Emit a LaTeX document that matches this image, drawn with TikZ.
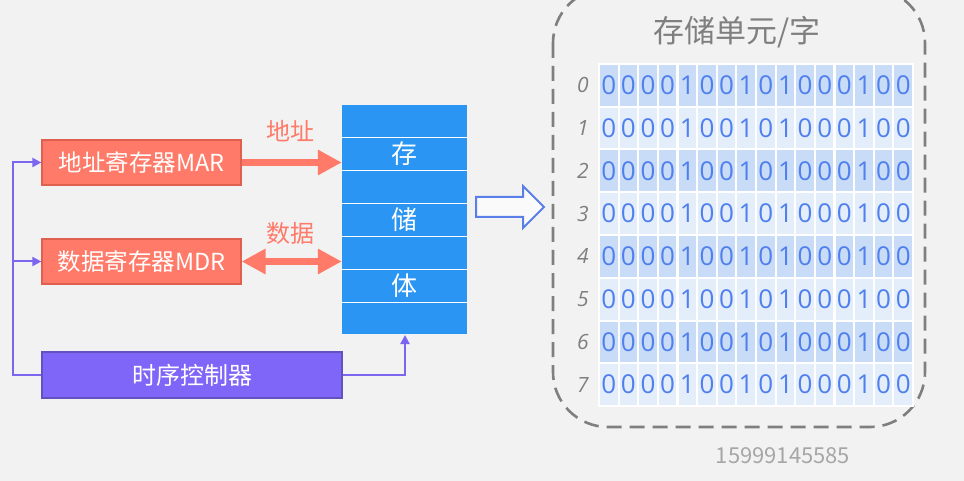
\documentclass[tikz,border=0pt]{standalone}
\usepackage{fontspec}
\setmainfont{Noto Sans CJK SC}
\newfontfamily\labfont{Open Sans}
\usetikzlibrary{arrows.meta}
\definecolor{bgc}{HTML}{F2F2F2}
\definecolor{salmon}{HTML}{FF7A68}
\definecolor{salmonb}{HTML}{E0604F}
\definecolor{memblue}{HTML}{2A95F2}
\definecolor{purp}{HTML}{8066F8}
\definecolor{purpl}{HTML}{7B66F0}
\definecolor{celld}{HTML}{C9DCF7}
\definecolor{celll}{HTML}{E4EEFB}
\definecolor{digit}{HTML}{5080EE}
\definecolor{dgray}{HTML}{7F7F7F}
\definecolor{hollow}{HTML}{5B7FE8}
\begin{document}
\begin{tikzpicture}[x=1pt,y=-1pt,
  regbox/.style={draw=salmonb,line width=1.2pt,fill=salmon,text=white,minimum width=199pt,minimum height=45pt,inner sep=0pt,font=\fontsize{23.5}{26}\selectfont},
  ctrlbox/.style={draw=purpl!80!black,line width=1.2pt,fill=purp,text=white,minimum width=300pt,minimum height=46pt,inner sep=0pt,font=\fontsize{24}{27}\selectfont},
  bigarrow/.style={draw=salmon,line width=7pt},
  ctrlline/.style={draw=purpl,line width=2pt,-{Triangle[length=9pt,width=9pt]}},
  memtext/.style={text=white,font=\fontsize{26}{28}\selectfont,inner sep=0pt},
  lbltext/.style={text=salmon,font=\fontsize{24}{27}\selectfont,inner sep=0pt},
  bit/.style={text=digit,font=\labfont\fontsize{26}{29}\selectfont,inner sep=0pt},
  rowlab/.style={text=dgray,font=\labfont\itshape\fontsize{21}{24}\selectfont,inner sep=0pt}]
\fill[bgc] (0,0) rectangle (964,481);
\useasboundingbox (0,0) rectangle (964,481);

% memory block
\node[fill=memblue,minimum width=125pt,minimum height=229pt,inner sep=0pt] (mem) at (404.5,219.5) {};
\foreach \yy in {137.5,170.5,203.5,236.5,269.5,302.5}
  \draw[white,line width=1.5pt] (342,\yy) -- (467,\yy);
\node[memtext] (m1) at (404.5,154) {存};
\node[memtext] (m2) at (404.5,220) {储};
\node[memtext] (m3) at (404.5,286) {体};

% registers
\node[regbox] (mar) at (141.5,162.5) {地址寄存器MAR};
\node[regbox] (mdr) at (141.5,261.5) {数据寄存器MDR};
\node[ctrlbox] (tc) at (192,375) {时序控制器};

% address / data arrows
\draw[bigarrow,-{Triangle[length=24pt,width=24pt]}] (mar.east) -- (mar.east -| mem.west);
\draw[bigarrow,{Triangle[length=24pt,width=24pt]}-{Triangle[length=24pt,width=24pt]}] (mdr.east) -- (mdr.east -| mem.west);
\node[lbltext] (la) at (290,131) {地址};
\node[lbltext] (ld) at (290,233) {数据};

% control lines
\coordinate (lb) at (13,375);
\coordinate (rb) at (405,375);
\draw[ctrlline] (tc.west) -- (lb) |- (mar.west);
\draw[ctrlline] (lb |- mdr.west) -- (mdr.west);
\draw[ctrlline] (tc.east) -- (rb) -- (405,335);

% hollow arrow
\draw[hollow,fill=white!60!bgc,line width=2pt,line join=miter]
  (476,197) -- (523,197) -- (523,186) -- (544,207) -- (523,228) -- (523,217) -- (476,217) -- cycle;

% dashed frame
\draw[dgray,line width=2.6pt,dash pattern=on 15pt off 8pt,rounded corners=55pt]
  (553,-12) rectangle (925,427);
\node[text=dgray,font=\fontsize{31}{34}\selectfont,inner sep=0pt] (title) at (737,32) {存储单元/字};

% grid
\fill[white] (598,63) rectangle (914,407);
\foreach \r in {0,...,7}{
  \pgfmathsetmacro{\yt}{64+\r*42.75}
  \pgfmathsetmacro{\yc}{\yt+21.375}
  \pgfmathtruncatemacro{\rpar}{mod(\r,2)}
  \ifnum\rpar=0 \def\cc{celld}\else\def\cc{celll}\fi
  \node[rowlab] (r\r) at (583,\yc) {\r};
  \foreach \b [count=\c from 0] in {0,0,0,0,1,0,0,1,0,1,0,0,0,1,0,0}{
    \pgfmathsetmacro{\xl}{599+\c*19.625}
    \fill[\cc] (\xl+1,\yt+1) rectangle (\xl+18.6,\yt+41.75);
    \node[bit] (b\r-\c) at (\xl+9.8,\yc) {\b};
  }
}

\node[text=black!35,font=\fontsize{22}{25}\selectfont,inner sep=0pt] (wm) at (783,456) {15999145585};
\end{tikzpicture}
\end{document}
